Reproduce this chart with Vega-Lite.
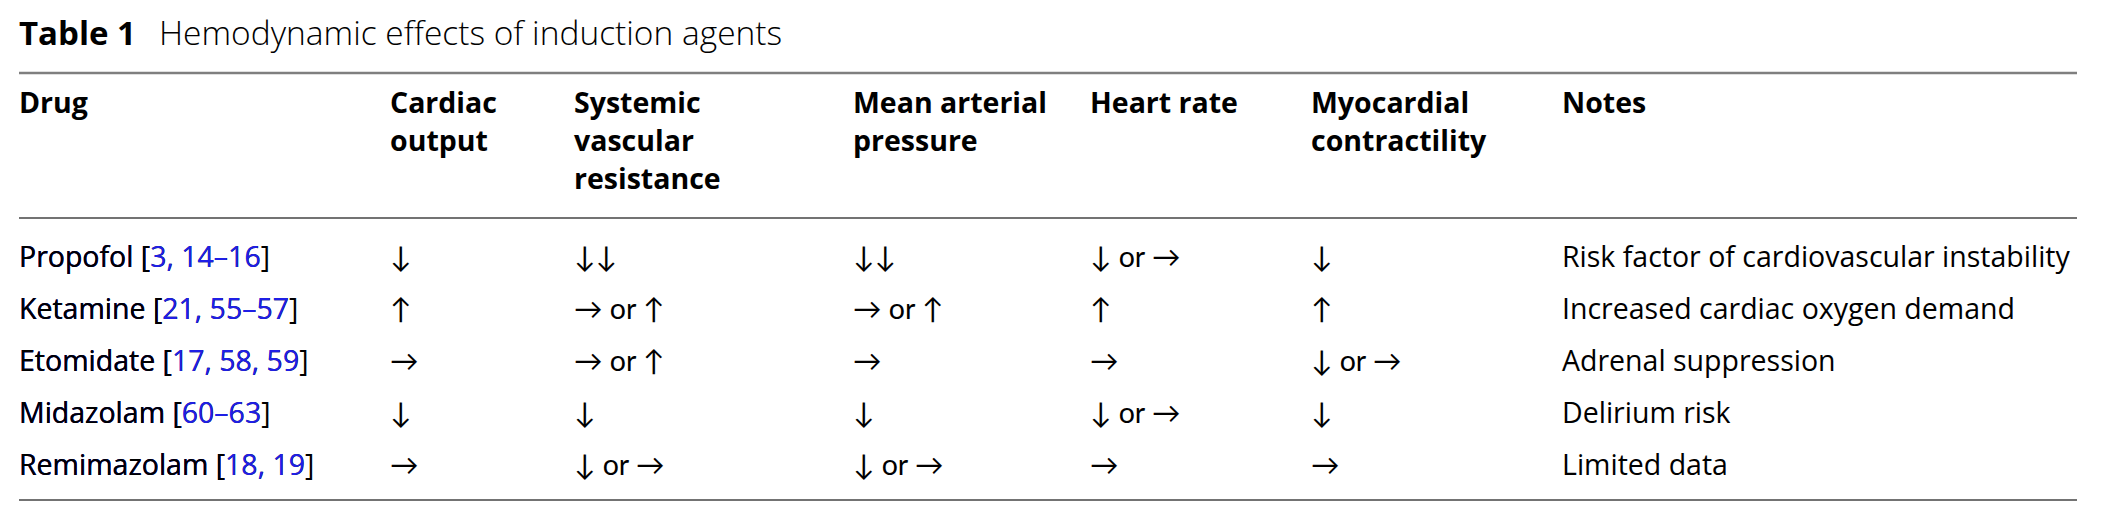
{
  "$schema": "https://vega.github.io/schema/vega-lite/v6.json",
  "width": 2103,
  "height": 519,
  "autosize": {"type": "fit", "contains": "padding"},
  "padding": 0,
  "background": "white",
  "config": {"view": {"stroke": null}},
  "datasets": {
    "title": [{"row": -1, "col": 0, "bold": "Table 1", "rest": "Hemodynamic effects of induction agents"}],
    "rules": [
      {"kind": "top", "row": -0.5, "col": 0, "colEnd": 7},
      {"kind": "mid", "row": 0.5, "col": 0, "colEnd": 7},
      {"kind": "bottom", "row": 5.5, "col": 0, "colEnd": 7}
    ],
    "header": [
      {"row": 0, "col": 0, "lines": ["Drug"]},
      {"row": 0, "col": 1, "lines": ["Cardiac", "output"]},
      {"row": 0, "col": 2, "lines": ["Systemic", "vascular", "resistance"]},
      {"row": 0, "col": 3, "lines": ["Mean arterial", "pressure"]},
      {"row": 0, "col": 4, "lines": ["Heart rate"]},
      {"row": 0, "col": 5, "lines": ["Myocardial", "contractility"]},
      {"row": 0, "col": 6, "lines": ["Notes"]}
    ],
    "drugs": [
      {"row": 1, "col": 0, "full": "Propofol [3, 14–16]", "upToRefs": "Propofol [3, 14–16", "name": "Propofol ["},
      {"row": 2, "col": 0, "full": "Ketamine [21, 55–57]", "upToRefs": "Ketamine [21, 55–57", "name": "Ketamine ["},
      {"row": 3, "col": 0, "full": "Etomidate [17, 58, 59]", "upToRefs": "Etomidate [17, 58, 59", "name": "Etomidate ["},
      {"row": 4, "col": 0, "full": "Midazolam [60–63]", "upToRefs": "Midazolam [60–63", "name": "Midazolam ["},
      {"row": 5, "col": 0, "full": "Remimazolam [18, 19]", "upToRefs": "Remimazolam [18, 19", "name": "Remimazolam ["}
    ],
    "cells": [
      {"row": 1, "col": 1, "text": "↓"},
      {"row": 1, "col": 2, "text": "↓↓"},
      {"row": 1, "col": 3, "text": "↓↓"},
      {"row": 1, "col": 4, "text": "↓ or →"},
      {"row": 1, "col": 5, "text": "↓"},
      {"row": 1, "col": 6, "text": "Risk factor of cardiovascular instability"},
      {"row": 2, "col": 1, "text": "↑"},
      {"row": 2, "col": 2, "text": "→ or ↑"},
      {"row": 2, "col": 3, "text": "→ or ↑"},
      {"row": 2, "col": 4, "text": "↑"},
      {"row": 2, "col": 5, "text": "↑"},
      {"row": 2, "col": 6, "text": "Increased cardiac oxygen demand"},
      {"row": 3, "col": 1, "text": "→"},
      {"row": 3, "col": 2, "text": "→ or ↑"},
      {"row": 3, "col": 3, "text": "→"},
      {"row": 3, "col": 4, "text": "→"},
      {"row": 3, "col": 5, "text": "↓ or →"},
      {"row": 3, "col": 6, "text": "Adrenal suppression"},
      {"row": 4, "col": 1, "text": "↓"},
      {"row": 4, "col": 2, "text": "↓"},
      {"row": 4, "col": 3, "text": "↓"},
      {"row": 4, "col": 4, "text": "↓ or →"},
      {"row": 4, "col": 5, "text": "↓"},
      {"row": 4, "col": 6, "text": "Delirium risk"},
      {"row": 5, "col": 1, "text": "→"},
      {"row": 5, "col": 2, "text": "↓ or →"},
      {"row": 5, "col": 3, "text": "↓ or →"},
      {"row": 5, "col": 4, "text": "→"},
      {"row": 5, "col": 5, "text": "→"},
      {"row": 5, "col": 6, "text": "Limited data"}
    ]
  },
  "encoding": {
    "x": {"field": "col", "type": "quantitative", "axis": null,
          "scale": {"domain": [0, 1, 2, 3, 4, 5, 6, 7], "range": [19, 390, 574, 853, 1090, 1311, 1562, 2077], "nice": false, "zero": false}},
    "y": {"field": "row", "type": "quantitative", "axis": null,
          "scale": {"domain": [-1, -0.5, 0, 0.5, 1, 5, 5.5], "range": [45, 73, 113, 218, 267, 475, 500], "nice": false, "zero": false}}
  },
  "layer": [
    {
      "data": {"name": "rules"},
      "transform": [{"filter": "datum.kind === 'top'"}],
      "mark": {"type": "rule", "stroke": "#7f7f7f", "strokeWidth": 2.5},
      "encoding": {"x2": {"field": "colEnd"}}
    },
    {
      "data": {"name": "rules"},
      "transform": [{"filter": "datum.kind !== 'top'"}],
      "mark": {"type": "rule", "stroke": "#444444", "strokeWidth": 1.6},
      "encoding": {"x2": {"field": "colEnd"}}
    },
    {
      "data": {"name": "title"},
      "mark": {"type": "text", "align": "left", "baseline": "alphabetic", "font": "Open Sans", "fontSize": 33, "fontWeight": 700, "fill": "#000000"},
      "encoding": {"text": {"field": "bold"}}
    },
    {
      "data": {"name": "title"},
      "mark": {"type": "text", "align": "left", "baseline": "alphabetic", "dx": 140, "font": "Open Sans", "fontSize": 33.5, "fontWeight": 300, "fill": "#000000"},
      "encoding": {"text": {"field": "rest"}}
    },
    {
      "data": {"name": "header"},
      "mark": {"type": "text", "align": "left", "baseline": "alphabetic", "lineHeight": 38, "font": "Open Sans", "fontSize": 28.5, "fontWeight": 700, "fill": "#000000"},
      "encoding": {"text": {"field": "lines"}}
    },
    {
      "data": {"name": "cells"},
      "transform": [{"filter": "datum.col < 6"}],
      "mark": {"type": "text", "align": "left", "baseline": "alphabetic", "font": "Lato", "fontSize": 28.5, "fill": "#000000"},
      "encoding": {"text": {"field": "text"}}
    },
    {
      "data": {"name": "cells"},
      "transform": [{"filter": "datum.col === 6"}],
      "mark": {"type": "text", "align": "left", "baseline": "alphabetic", "font": "Open Sans", "fontSize": 28.5, "fill": "#000000"},
      "encoding": {"text": {"field": "text"}}
    },
    {
      "data": {"name": "drugs"},
      "mark": {"type": "text", "align": "left", "baseline": "alphabetic", "font": "Open Sans", "fontSize": 28.5, "fill": "#000000"},
      "encoding": {"text": {"field": "full"}}
    },
    {
      "data": {"name": "drugs"},
      "mark": {"type": "text", "align": "left", "baseline": "alphabetic", "font": "Open Sans", "fontSize": 28.5, "fill": "#1f1fe6"},
      "encoding": {"text": {"field": "upToRefs"}}
    },
    {
      "data": {"name": "drugs"},
      "mark": {"type": "text", "align": "left", "baseline": "alphabetic", "font": "Open Sans", "fontSize": 28.5, "fill": "#000000"},
      "encoding": {"text": {"field": "name"}}
    }
  ]
}
